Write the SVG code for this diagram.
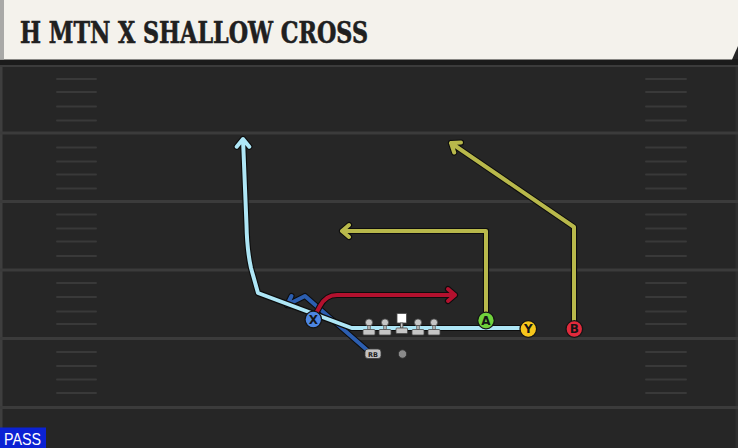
<svg xmlns="http://www.w3.org/2000/svg" xmlns:xlink="http://www.w3.org/1999/xlink" width="738" height="448" viewBox="0 0 738 448">
<style>
.yl{stroke:#3b3b3b;stroke-width:3}
.hm{stroke:#393939;stroke-width:2;stroke-linecap:round}
.ol{fill:none;stroke:#0d0d0d;stroke-width:6.2;stroke-linejoin:round;stroke-linecap:round}
.rt{fill:none;stroke-width:4;stroke-linejoin:round;stroke-linecap:round}
.lb{stroke:#aee6f6}
.db{stroke:#2c5eb0}
.rd{stroke:#b3112e}
.ov{stroke:#b8b84b}
.pl{stroke:#151515;stroke-width:1.3}
.lt{font-family:"DejaVu Sans","Liberation Sans",sans-serif;font-weight:bold;font-size:12px;fill:#151515;text-anchor:middle}
.ln{fill:#c6c6c6;stroke:#4a4a4a;stroke-width:0.8}
</style>
<defs>
<path id="r-db" d="M367,350 L305,296 L287,305 M291.5,296 L287,305 L296.9,306.8"/>
<path id="r-lb" d="M528,328 L351.7,328 L258,293 L251,268 Q247,250 246.5,225 L243,139 M236.7,146.7 L243,139 L249.3,146.7"/>
<path id="r-rd" d="M313,319 L320,306 Q326,295 337,295 L455,295 M448,289 L455,295 L448,301"/>
<path id="r-ov-a" d="M486,320 L486,231 L342,231 M349,225 L342,231 L349,237"/>
<path id="r-ov-b" d="M574,329 L574,227 L451,143 M461,142.5 L451,143 L454.2,152.5"/>
</defs>
<rect width="738" height="448" fill="#262626"/>
<rect x="0" y="0" width="2.5" height="448" fill="#3e3e3e"/>
<rect x="735.5" y="64" width="2.5" height="384" fill="#2f2f2f"/>
<g id="field">
<line class="yl" x1="0" y1="65.5" x2="738" y2="65.5"/>
<line class="yl" x1="0" y1="133" x2="738" y2="133"/>
<line class="yl" x1="0" y1="201.5" x2="738" y2="201.5"/>
<line class="yl" x1="0" y1="270" x2="738" y2="270"/>
<line class="yl" x1="0" y1="338.5" x2="738" y2="338.5"/>
<line class="yl" x1="0" y1="407.5" x2="738" y2="407.5"/>
<g id="hash-left">
<line class="hm" x1="57" y1="79" x2="96" y2="79"/><line class="hm" x1="57" y1="92" x2="96" y2="92"/><line class="hm" x1="57" y1="106.5" x2="96" y2="106.5"/><line class="hm" x1="57" y1="120.5" x2="96" y2="120.5"/>
<line class="hm" x1="57" y1="147.5" x2="96" y2="147.5"/><line class="hm" x1="57" y1="161.5" x2="96" y2="161.5"/><line class="hm" x1="57" y1="174.5" x2="96" y2="174.5"/><line class="hm" x1="57" y1="188.5" x2="96" y2="188.5"/>
<line class="hm" x1="57" y1="214.5" x2="96" y2="214.5"/><line class="hm" x1="57" y1="228.5" x2="96" y2="228.5"/><line class="hm" x1="57" y1="241.5" x2="96" y2="241.5"/><line class="hm" x1="57" y1="256" x2="96" y2="256"/>
<line class="hm" x1="57" y1="283" x2="96" y2="283"/><line class="hm" x1="57" y1="297" x2="96" y2="297"/><line class="hm" x1="57" y1="311.5" x2="96" y2="311.5"/><line class="hm" x1="57" y1="324" x2="96" y2="324"/>
<line class="hm" x1="57" y1="352" x2="96" y2="352"/><line class="hm" x1="57" y1="366" x2="96" y2="366"/><line class="hm" x1="57" y1="379.5" x2="96" y2="379.5"/><line class="hm" x1="57" y1="393" x2="96" y2="393"/>
</g>
<g id="hash-right">
<line class="hm" x1="646" y1="79" x2="686" y2="79"/><line class="hm" x1="646" y1="92" x2="686" y2="92"/><line class="hm" x1="646" y1="106.5" x2="686" y2="106.5"/><line class="hm" x1="646" y1="120.5" x2="686" y2="120.5"/>
<line class="hm" x1="646" y1="147.5" x2="686" y2="147.5"/><line class="hm" x1="646" y1="161.5" x2="686" y2="161.5"/><line class="hm" x1="646" y1="174.5" x2="686" y2="174.5"/><line class="hm" x1="646" y1="188.5" x2="686" y2="188.5"/>
<line class="hm" x1="646" y1="214.5" x2="686" y2="214.5"/><line class="hm" x1="646" y1="228.5" x2="686" y2="228.5"/><line class="hm" x1="646" y1="241.5" x2="686" y2="241.5"/><line class="hm" x1="646" y1="256" x2="686" y2="256"/>
<line class="hm" x1="646" y1="283" x2="686" y2="283"/><line class="hm" x1="646" y1="297" x2="686" y2="297"/><line class="hm" x1="646" y1="311.5" x2="686" y2="311.5"/><line class="hm" x1="646" y1="324" x2="686" y2="324"/>
<line class="hm" x1="646" y1="352" x2="686" y2="352"/><line class="hm" x1="646" y1="366" x2="686" y2="366"/><line class="hm" x1="646" y1="379.5" x2="686" y2="379.5"/><line class="hm" x1="646" y1="393" x2="686" y2="393"/>
</g>
</g>
<g id="header">
<rect x="0" y="59" width="738" height="6" fill="#1b1b1b"/>
<polygon points="0,0 738,0 738,46 732,59.5 0,59.5" fill="#f4f2ec"/>
<rect x="0" y="0" width="4" height="59.5" fill="#a9a9a7"/>
<text x="20" y="43" font-family="'DejaVu Serif','Liberation Serif',serif" font-weight="bold" font-size="29" fill="#202020" stroke="#202020" stroke-width="0.6" textLength="348" lengthAdjust="spacingAndGlyphs">H MTN X SHALLOW CROSS</text>
</g>
<g id="connectors">
<use xlink:href="#r-db" class="ol"/><use xlink:href="#r-db" class="rt db"/>
<use xlink:href="#r-lb" class="ol"/><use xlink:href="#r-lb" class="rt lb"/>
<use xlink:href="#r-rd" class="ol"/><use xlink:href="#r-rd" class="rt rd"/>
<use xlink:href="#r-ov-a" class="ol"/><use xlink:href="#r-ov-a" class="rt ov"/>
<use xlink:href="#r-ov-b" class="ol"/><use xlink:href="#r-ov-b" class="rt ov"/>
</g>
<g id="line">
<g id="lt"><circle class="ln" cx="369" cy="322.5" r="3.6"/><rect class="ln" x="367.8" y="325.5" width="2.4" height="4"/><rect class="ln" x="363" y="329.5" width="12" height="5.5" rx="1"/></g>
<g id="lg"><circle class="ln" cx="385" cy="322.5" r="3.6"/><rect class="ln" x="383.8" y="325.5" width="2.4" height="4"/><rect class="ln" x="379" y="329.5" width="12" height="5.5" rx="1"/></g>
<g id="c"><rect x="397" y="313.5" width="9.5" height="9.5" fill="#ffffff" stroke="#4a4a4a" stroke-width="0.8"/><rect class="ln" x="400.5" y="323" width="2.4" height="5"/><rect class="ln" x="396" y="328" width="11.5" height="5.5" rx="1"/></g>
<g id="rg"><circle class="ln" cx="418" cy="322.5" r="3.6"/><rect class="ln" x="416.8" y="325.5" width="2.4" height="4"/><rect class="ln" x="412" y="329.5" width="12" height="5.5" rx="1"/></g>
<g id="rt"><circle class="ln" cx="434" cy="322.5" r="3.6"/><rect class="ln" x="432.8" y="325.5" width="2.4" height="4"/><rect class="ln" x="428" y="329.5" width="12" height="5.5" rx="1"/></g>
</g>
<g id="qb"><circle cx="402.5" cy="354" r="4.2" fill="#8a8a8a" stroke="#2a2a2a" stroke-width="0.8"/></g>
<g id="rb"><rect x="365" y="349" width="16" height="9.5" rx="3" fill="#c2c2c2" stroke="#3a3a3a" stroke-width="0.8"/><text x="373" y="356.6" font-family="'DejaVu Sans','Liberation Sans',sans-serif" font-weight="bold" font-size="6.5" fill="#222" text-anchor="middle">RB</text></g>
<g id="x"><circle class="pl" cx="313.3" cy="319.5" r="8.3" fill="#4d86e2"/><text class="lt" x="313.3" y="323.8">X</text></g>
<g id="a"><circle class="pl" cx="486" cy="320.5" r="8.3" fill="#70d23c"/><text class="lt" x="486" y="324.8">A</text></g>
<g id="y"><circle class="pl" cx="528.3" cy="329" r="8.3" fill="#f6c61c"/><text class="lt" x="528.3" y="333.3">Y</text></g>
<g id="b"><circle class="pl" cx="574.3" cy="329" r="8.3" fill="#e12a3c"/><text class="lt" x="574.3" y="333.3">B</text></g>
<g id="pass"><rect x="0" y="427.5" width="46" height="20.5" fill="#0b22d4"/><text x="4" y="445" font-family="'Liberation Sans',Arial,sans-serif" font-size="16" fill="#ffffff" textLength="37" lengthAdjust="spacingAndGlyphs">PASS</text></g>
</svg>
